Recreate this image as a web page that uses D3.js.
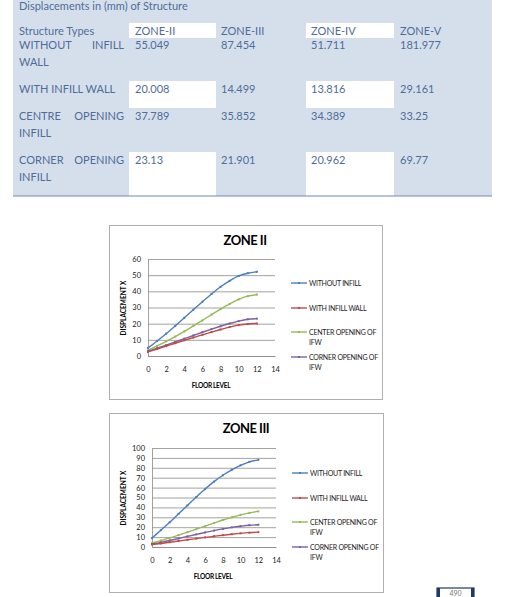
<!DOCTYPE html>
<html>
<head>
<meta charset="utf-8">
<script src="https://cdn.jsdelivr.net/npm/d3@7"></script>
<style>
  body { margin: 0; background: #fff; }
  svg { display: block; }
  text { font-family: "Lato", "Open Sans", sans-serif; }
</style>
</head>
<body>
<svg width="516" height="597"></svg>
<script>
// ---- table data ----
var zones = ["ZONE-II", "ZONE-III", "ZONE-IV", "ZONE-V"];
var structureTypes = [["WITHOUT", "INFILL", "WALL"], ["WITH INFILL WALL"], ["CENTRE", "OPENING", "INFILL"], ["CORNER", "OPENING", "INFILL"]];
var withoutInfillRow = ["55.049", "87.454", "51.711", "181.977"];
var withInfillRow = ["20.008", "14.499", "13.816", "29.161"];
var centreOpeningRow = ["37.789", "35.852", "34.389", "33.25"];
var cornerOpeningRow = ["23.13", "21.901", "20.962", "69.77"];

// ---- chart data ----
var floors = [0, 1, 2, 3, 4, 5, 6, 7, 8, 9, 10, 11, 12];
var seriesNames = ["WITHOUT INFILL", "WITH INFILL WALL", "CENTER OPENING OF IFW", "CORNER OPENING OF IFW"];
var zone2WithoutInfill = [5, 9.3, 13.8, 18.6, 23.6, 28.6, 33.6, 38.4, 42.8, 46.5, 49.5, 51.2, 52.1];
var zone2WithInfill = [2.5, 4.3, 6.1, 7.9, 9.7, 11.4, 13.1, 14.8, 16.4, 17.9, 19.1, 19.8, 20.1];
var zone2Centre = [3.5, 6.2, 9, 12, 15.2, 18.6, 22, 25.6, 29, 32.2, 35, 37, 38];
var zone2Corner = [3, 4.8, 6.7, 8.7, 10.7, 12.7, 14.7, 16.6, 18.4, 20.1, 21.6, 22.7, 23.1];
var zone3WithoutInfill = [9, 17, 25, 33.5, 42, 50.5, 58.5, 66, 72.5, 78, 82.5, 86, 88];
var zone3WithInfill = [2.5, 3.6, 4.8, 6, 7.3, 8.5, 9.7, 10.8, 11.9, 12.9, 13.8, 14.5, 15];
var zone3Centre = [4, 6.5, 9.2, 12, 15, 18, 21, 24.2, 27.3, 30, 32.5, 34.5, 36];
var zone3Corner = [3, 4.7, 6.6, 8.6, 10.7, 12.7, 14.7, 16.6, 18.3, 19.8, 21, 22, 22.5];
var xTicks = [0, 2, 4, 6, 8, 10, 12, 14];
var colors = ["#4a7ebb", "#be4b48", "#98b954", "#7d60a0"];

var svg = d3.select("svg");
var ink = "#4f6d98";

// ---- table ----
var tbl = svg.append("g");
tbl.append("rect").attr("x", 13).attr("y", 0).attr("width", 479).attr("height", 196).attr("fill", "#d5dfec");
var colX = [129, 216, 306, 394];
var white = [[23, 38], [81, 108], [152, 196]];
white.forEach(function(w) {
  [0, 2].forEach(function(c) {
    tbl.append("rect").attr("x", colX[c]).attr("y", w[0])
      .attr("width", colX[c + 1] - colX[c]).attr("height", w[1] - w[0]).attr("fill", "#fff");
  });
});
tbl.append("line").attr("x1", 13).attr("x2", 492).attr("y1", 196).attr("y2", 196)
  .attr("stroke", "#6a8cb8").attr("stroke-width", 1.2);

function t(x, y, s, anchor) {
  return tbl.append("text").attr("x", x).attr("y", y).attr("fill", ink)
    .attr("font-size", 11).attr("text-anchor", anchor || "start").text(s);
}
t(19, 10, "Displacements in (mm) of Structure");
t(19, 35, "Structure Types");
var zx = [135, 221, 311, 400];
zones.forEach(function(z, i) { t(zx[i], 35, z); });

var rows = [withoutInfillRow, withInfillRow, centreOpeningRow, cornerOpeningRow];
var rowY = [49, 93, 120, 164];
rows.forEach(function(r, i) {
  var lbl = structureTypes[i];
  if (lbl.length === 1) {
    t(19, rowY[i], lbl[0]);
  } else {
    t(19, rowY[i], lbl[0]);
    t(124, rowY[i], lbl[1], "end");
    t(19, rowY[i] + 17, lbl[2]);
  }
  r.forEach(function(v, j) { t(zx[j], rowY[i], v); });
});

// ---- charts ----
function drawChart(opt) {
  var g = svg.append("g");
  g.append("rect").attr("x", opt.box[0] + 0.5).attr("y", opt.box[1] + 0.5)
    .attr("width", opt.box[2] - opt.box[0]).attr("height", opt.box[3] - opt.box[1])
    .attr("fill", "#fff").attr("stroke", "#b0b0b0").attr("stroke-width", 1);

  g.append("text").attr("x", opt.titleX).attr("y", opt.titleY)
    .attr("text-anchor", "middle").attr("font-size", 13).attr("font-weight", "bold")
    .attr("fill", "#000").attr("letter-spacing", -0.5).text(opt.title);

  var x = d3.scaleLinear().domain([0, 14]).range([opt.plot[0], opt.plot[1]]);
  var y = d3.scaleLinear().domain([0, opt.yMax]).range([opt.plot[3], opt.plot[2]]);

  // gridlines
  g.append("g").attr("transform", "translate(" + opt.plot[0] + ",0)")
    .call(d3.axisLeft(y).tickValues(d3.range(0, opt.yMax + 1, 10)).tickSize(-(opt.plot[1] - opt.plot[0])).tickFormat(""))
    .call(function(a) {
      a.select(".domain").remove();
      a.selectAll("line").attr("stroke", "#8a8a8a").attr("stroke-width", 0.8);
    });

  // y axis line + labels
  g.append("g").attr("transform", "translate(" + opt.plot[0] + ",0)")
    .call(d3.axisLeft(y).tickValues(d3.range(0, opt.yMax + 1, 10)).tickSize(0).tickPadding(7))
    .call(function(a) {
      a.select(".domain").attr("stroke", "#8a8a8a").attr("stroke-width", 0.8);
      a.selectAll("text").attr("font-size", 7.5).attr("fill", "#222");
    });

  // x axis labels
  g.append("g").attr("transform", "translate(0," + opt.plot[3] + ")")
    .call(d3.axisBottom(x).tickValues(xTicks).tickSize(0).tickPadding(11))
    .call(function(a) {
      a.select(".domain").attr("stroke", "#8a8a8a").attr("stroke-width", 0.8);
      a.selectAll("text").attr("font-size", 7.5).attr("fill", "#222");
    });

  g.append("text").attr("x", opt.xLabel[0]).attr("y", opt.xLabel[1])
    .attr("text-anchor", "middle").attr("font-size", 6.5).attr("font-weight", "bold")
    .attr("letter-spacing", -0.3).text("FLOOR LEVEL");
  g.append("text").attr("transform", "translate(" + opt.yLabel[0] + "," + opt.yLabel[1] + ") rotate(-90)")
    .attr("text-anchor", "middle").attr("font-size", 6.5).attr("font-weight", "bold")
    .text("DISPLACEMENT X");

  var line = d3.line().x(function(d, i) { return x(floors[i]); }).y(function(d) { return y(d); })
    .curve(d3.curveMonotoneX);

  // draw in order so blue is underneath
  [0, 2, 3, 1].forEach(function(k) {
    var s = opt.series[k];
    g.append("path").attr("d", line(s)).attr("fill", "none")
      .attr("stroke", colors[k]).attr("stroke-width", 1.4);
    g.selectAll(null).data(s).enter().append("rect")
      .attr("x", function(d, i) { return x(floors[i]) - 1; })
      .attr("y", function(d) { return y(d) - 1; })
      .attr("width", 2).attr("height", 2).attr("fill", colors[k]);
  });

  // legend
  var leg = g.append("g");
  seriesNames.forEach(function(name, i) {
    var ly = opt.legendY[i];
    leg.append("line").attr("x1", opt.legendX).attr("x2", opt.legendX + 16)
      .attr("y1", ly).attr("y2", ly).attr("stroke", colors[i]).attr("stroke-width", 1.4);
    leg.append("rect").attr("x", opt.legendX + 7).attr("y", ly - 1).attr("width", 2).attr("height", 2).attr("fill", colors[i]);
    var parts = name.split(" IFW");
    var tx = leg.append("text").attr("x", opt.legendX + 18).attr("y", ly + 2.5)
      .attr("font-size", 7).attr("letter-spacing", -0.25).attr("fill", "#222");
    if (parts.length > 1) {
      tx.text(parts[0]);
      leg.append("text").attr("x", opt.legendX + 18).attr("y", ly + 12.5)
        .attr("font-size", 7).attr("letter-spacing", -0.25).attr("fill", "#222").text("IFW");
    } else {
      tx.text(name);
    }
  });
}

drawChart({
  box: [109, 225, 382, 399],
  title: "ZONE II", titleX: 245, titleY: 245,
  plot: [148, 275, 259, 356], yMax: 60,
  series: [zone2WithoutInfill, zone2WithInfill, zone2Centre, zone2Corner],
  xLabel: [211, 388], yLabel: [126, 308],
  legendX: 291, legendY: [283, 308, 332, 357]
});

drawChart({
  box: [109, 413, 383, 592],
  title: "ZONE III", titleX: 246, titleY: 433,
  plot: [152, 276, 448, 547], yMax: 100,
  series: [zone3WithoutInfill, zone3WithInfill, zone3Centre, zone3Corner],
  xLabel: [213, 579], yLabel: [126, 498],
  legendX: 292, legendY: [473, 498, 522, 547]
});

// page number box
var pg = svg.append("g");
pg.append("rect").attr("x", 437).attr("y", 588).attr("width", 37).attr("height", 12)
  .attr("fill", "#fff").attr("stroke", "#1f3a63").attr("stroke-width", 1.2);
pg.append("rect").attr("x", 437).attr("y", 588).attr("width", 3).attr("height", 10).attr("fill", "#1f3a63");
pg.append("rect").attr("x", 471).attr("y", 588).attr("width", 3).attr("height", 10).attr("fill", "#1f3a63");
pg.append("text").attr("x", 455.5).attr("y", 596).attr("text-anchor", "middle")
  .attr("font-size", 7).attr("fill", "#777").text("490");
</script>
</body>
</html>
